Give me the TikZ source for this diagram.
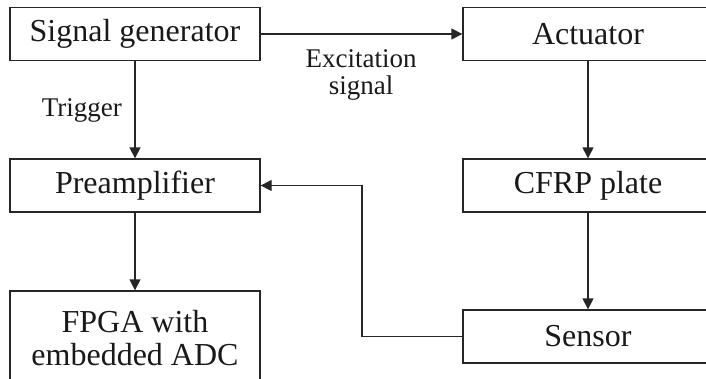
\documentclass[tikz,border=0pt]{standalone}
\usepackage{fontspec}
\setmainfont{Liberation Serif}
\usetikzlibrary{arrows.meta}
\begin{document}
\begin{tikzpicture}[x=1pt,y=-1pt,
  blk/.style={draw=black!85, line width=1.3pt, minimum width=250pt, minimum height=53pt,
    inner sep=0pt, font=\fontsize{32}{33}\selectfont, align=center, text=black!90},
  conn/.style={draw=black!85, line width=1.3pt, -{Triangle[length=11pt,width=11pt]}},
  lbl/.style={font=\fontsize{27}{26.3}\selectfont, text=black!90, align=center, inner sep=0pt}]
  \useasboundingbox (0,0) rectangle (706,378);
  % blocks
  \node[blk] (sg) at (135,34) {Signal generator};
  \node[blk] (act) at (588,34) {Actuator};
  \node[blk] (pre) at (135,185.5) {Preamplifier};
  \node[blk] (cfrp) at (588,185.5) {CFRP plate};
  \node[blk, minimum height=94pt] (fpga) at (135,338) {FPGA with\\embedded ADC};
  \node[blk] (sen) at (588,336.5) {Sensor};
  % signal paths
  \draw[conn] (sg.east) -- (act.west);
  \draw[conn] (sg.south) -- (pre.north);
  \draw[conn] (pre.south) -- (fpga.north);
  \draw[conn] (act.south) -- (cfrp.north);
  \draw[conn] (cfrp.south) -- (sen.north);
  \coordinate (bend) at (362,336.5);
  \draw[conn] (sen.west) -- (bend) |- (pre.east);
  % labels
  \node[lbl, anchor=base east] (trig) at (122,116.7) {Trigger};
  \node[lbl] (exc) at (361,75) {Excitation\\signal};
\end{tikzpicture}
\end{document}
